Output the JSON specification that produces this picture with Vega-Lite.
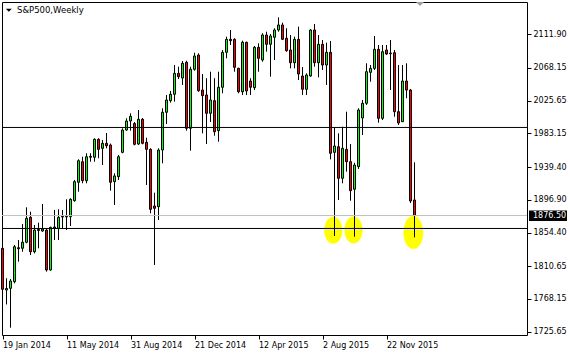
{
  "$schema": "https://vega.github.io/schema/vega-lite/v6.json",
  "width": 525,
  "height": 333,
  "autosize": {"type": "none"},
  "padding": {"left": 2, "top": 2, "right": 43, "bottom": 18},
  "background": "#ffffff",
  "config": {
    "view": {"stroke": "#000000", "strokeWidth": 1},
    "axis": {"grid": false, "domain": false, "labelFont": "DejaVu Sans", "labelFontSize": 8, "labelColor": "#000000", "tickColor": "#000000", "tickWidth": 1, "labelOverlap": false, "labelFlush": false, "tickCount": 30},
    "scale": {"continuousPadding": 0}
  },
  "datasets": {
    "candles": [
      {"d": "2014-01-19", "o": 1834.0, "h": 1843.8, "l": 1775.5, "c": 1780.7},
      {"d": "2014-01-26", "o": 1779.8, "h": 1795.0, "l": 1761.0, "c": 1781.8},
      {"d": "2014-02-02", "o": 1782.0, "h": 1794.1, "l": 1730.8, "c": 1791.5},
      {"d": "2014-02-09", "o": 1790.6, "h": 1838.2, "l": 1788.5, "c": 1836.0},
      {"d": "2014-02-16", "o": 1834.7, "h": 1844.7, "l": 1816.6, "c": 1833.4},
      {"d": "2014-02-23", "o": 1834.0, "h": 1865.5, "l": 1829.5, "c": 1841.8},
      {"d": "2014-03-02", "o": 1841.8, "h": 1887.2, "l": 1840.5, "c": 1872.9},
      {"d": "2014-03-09", "o": 1874.2, "h": 1881.5, "l": 1825.2, "c": 1829.5},
      {"d": "2014-03-16", "o": 1829.5, "h": 1864.2, "l": 1827.4, "c": 1857.7},
      {"d": "2014-03-23", "o": 1858.4, "h": 1867.2, "l": 1834.0, "c": 1857.1},
      {"d": "2014-03-30", "o": 1856.4, "h": 1891.5, "l": 1855.5, "c": 1859.0},
      {"d": "2014-04-06", "o": 1857.7, "h": 1859.9, "l": 1803.6, "c": 1805.8},
      {"d": "2014-04-13", "o": 1805.8, "h": 1862.0, "l": 1804.9, "c": 1861.2},
      {"d": "2014-04-20", "o": 1861.6, "h": 1883.7, "l": 1844.7, "c": 1860.3},
      {"d": "2014-04-27", "o": 1859.9, "h": 1884.6, "l": 1844.7, "c": 1874.2},
      {"d": "2014-05-04", "o": 1875.5, "h": 1883.7, "l": 1859.9, "c": 1874.6},
      {"d": "2014-05-11", "o": 1874.6, "h": 1897.6, "l": 1857.7, "c": 1875.5},
      {"d": "2014-05-18", "o": 1875.0, "h": 1898.9, "l": 1862.9, "c": 1897.6},
      {"d": "2014-05-25", "o": 1895.8, "h": 1922.7, "l": 1894.5, "c": 1920.5},
      {"d": "2014-06-01", "o": 1919.7, "h": 1949.5, "l": 1907.5, "c": 1947.7},
      {"d": "2014-06-08", "o": 1946.4, "h": 1952.9, "l": 1918.4, "c": 1921.8},
      {"d": "2014-06-15", "o": 1921.8, "h": 1957.4, "l": 1918.4, "c": 1952.9},
      {"d": "2014-06-22", "o": 1952.2, "h": 1957.4, "l": 1946.4, "c": 1953.4},
      {"d": "2014-06-29", "o": 1952.2, "h": 1976.8, "l": 1946.4, "c": 1975.5},
      {"d": "2014-07-06", "o": 1975.5, "h": 1976.8, "l": 1950.9, "c": 1962.5},
      {"d": "2014-07-13", "o": 1963.8, "h": 1974.6, "l": 1942.1, "c": 1970.3},
      {"d": "2014-07-20", "o": 1970.3, "h": 1983.7, "l": 1963.8, "c": 1967.2},
      {"d": "2014-07-27", "o": 1968.1, "h": 1970.0, "l": 1908.8, "c": 1919.7},
      {"d": "2014-08-03", "o": 1920.5, "h": 1931.4, "l": 1890.2, "c": 1927.9},
      {"d": "2014-08-10", "o": 1927.0, "h": 1955.1, "l": 1922.7, "c": 1952.9},
      {"d": "2014-08-17", "o": 1958.6, "h": 1989.8, "l": 1957.4, "c": 1987.6},
      {"d": "2014-08-24", "o": 1987.6, "h": 2002.8, "l": 1986.7, "c": 1999.3},
      {"d": "2014-08-31", "o": 1999.3, "h": 2009.3, "l": 1986.7, "c": 2005.4},
      {"d": "2014-09-07", "o": 1996.0, "h": 1998.0, "l": 1967.7, "c": 1969.0},
      {"d": "2014-09-14", "o": 1969.4, "h": 2013.6, "l": 1968.1, "c": 2001.5},
      {"d": "2014-09-21", "o": 2001.5, "h": 2003.2, "l": 1969.0, "c": 1970.3},
      {"d": "2014-09-28", "o": 1971.6, "h": 1977.6, "l": 1916.2, "c": 1962.5},
      {"d": "2014-10-05", "o": 1962.5, "h": 1963.8, "l": 1879.4, "c": 1884.6},
      {"d": "2014-10-12", "o": 1888.9, "h": 1906.2, "l": 1812.3, "c": 1885.9},
      {"d": "2014-10-19", "o": 1888.0, "h": 1963.8, "l": 1870.7, "c": 1961.6},
      {"d": "2014-10-26", "o": 1961.6, "h": 2015.8, "l": 1944.4, "c": 2010.6},
      {"d": "2014-11-02", "o": 2010.6, "h": 2033.1, "l": 1995.4, "c": 2026.6},
      {"d": "2014-11-09", "o": 2025.7, "h": 2038.3, "l": 2023.1, "c": 2034.0},
      {"d": "2014-11-16", "o": 2034.0, "h": 2072.0, "l": 2024.4, "c": 2061.2},
      {"d": "2014-11-23", "o": 2061.2, "h": 2069.8, "l": 2053.8, "c": 2056.8},
      {"d": "2014-11-30", "o": 2055.1, "h": 2077.2, "l": 2046.1, "c": 2074.2},
      {"d": "2014-12-07", "o": 2075.5, "h": 2077.6, "l": 1986.7, "c": 1989.8},
      {"d": "2014-12-14", "o": 1989.8, "h": 2069.8, "l": 1960.7, "c": 2066.4},
      {"d": "2014-12-21", "o": 2066.4, "h": 2088.0, "l": 2064.6, "c": 2083.7},
      {"d": "2014-12-28", "o": 2085.0, "h": 2087.2, "l": 2037.3, "c": 2038.6},
      {"d": "2015-01-04", "o": 2039.5, "h": 2060.3, "l": 1983.3, "c": 2032.2},
      {"d": "2015-01-11", "o": 2033.1, "h": 2054.8, "l": 1969.4, "c": 2009.3},
      {"d": "2015-01-18", "o": 2009.3, "h": 2063.3, "l": 1998.0, "c": 2026.6},
      {"d": "2015-01-25", "o": 2025.7, "h": 2054.8, "l": 1980.2, "c": 1985.4},
      {"d": "2015-02-01", "o": 1986.7, "h": 2063.3, "l": 1972.4, "c": 2043.1},
      {"d": "2015-02-08", "o": 2043.1, "h": 2091.5, "l": 2035.3, "c": 2088.5},
      {"d": "2015-02-15", "o": 2088.5, "h": 2108.8, "l": 2080.7, "c": 2105.4},
      {"d": "2015-02-22", "o": 2105.4, "h": 2117.5, "l": 2098.0, "c": 2103.6},
      {"d": "2015-03-01", "o": 2105.4, "h": 2106.7, "l": 2063.3, "c": 2069.0},
      {"d": "2015-03-08", "o": 2067.7, "h": 2068.5, "l": 2035.3, "c": 2037.3},
      {"d": "2015-03-15", "o": 2037.3, "h": 2103.6, "l": 2033.1, "c": 2101.5},
      {"d": "2015-03-22", "o": 2101.5, "h": 2102.3, "l": 2033.1, "c": 2038.3},
      {"d": "2015-03-29", "o": 2051.2, "h": 2054.8, "l": 2033.1, "c": 2043.1},
      {"d": "2015-04-05", "o": 2042.6, "h": 2096.7, "l": 2039.5, "c": 2095.0},
      {"d": "2015-04-12", "o": 2095.0, "h": 2100.2, "l": 2063.3, "c": 2080.7},
      {"d": "2015-04-19", "o": 2078.5, "h": 2113.2, "l": 2076.3, "c": 2111.0},
      {"d": "2015-04-26", "o": 2111.0, "h": 2115.3, "l": 2089.3, "c": 2098.9},
      {"d": "2015-05-03", "o": 2098.9, "h": 2112.3, "l": 2056.8, "c": 2109.7},
      {"d": "2015-05-10", "o": 2108.0, "h": 2119.7, "l": 2078.5, "c": 2117.5},
      {"d": "2015-05-17", "o": 2117.5, "h": 2134.0, "l": 2115.3, "c": 2124.0},
      {"d": "2015-05-24", "o": 2124.0, "h": 2127.0, "l": 2104.5, "c": 2105.4},
      {"d": "2015-05-31", "o": 2106.7, "h": 2119.7, "l": 2089.3, "c": 2090.6},
      {"d": "2015-06-07", "o": 2091.5, "h": 2111.0, "l": 2067.7, "c": 2075.0},
      {"d": "2015-06-14", "o": 2075.0, "h": 2108.8, "l": 2067.7, "c": 2105.4},
      {"d": "2015-06-21", "o": 2105.4, "h": 2121.8, "l": 2052.5, "c": 2060.3},
      {"d": "2015-06-28", "o": 2057.7, "h": 2069.4, "l": 2033.1, "c": 2040.5},
      {"d": "2015-07-05", "o": 2040.5, "h": 2061.2, "l": 2033.1, "c": 2059.0},
      {"d": "2015-07-12", "o": 2057.7, "h": 2118.4, "l": 2056.8, "c": 2117.5},
      {"d": "2015-07-19", "o": 2117.5, "h": 2125.3, "l": 2069.8, "c": 2075.0},
      {"d": "2015-07-26", "o": 2075.0, "h": 2111.0, "l": 2056.0, "c": 2098.9},
      {"d": "2015-08-02", "o": 2098.9, "h": 2104.5, "l": 2065.5, "c": 2072.0},
      {"d": "2015-08-09", "o": 2072.0, "h": 2101.0, "l": 2046.1, "c": 2088.5},
      {"d": "2015-08-16", "o": 2088.5, "h": 2103.2, "l": 1949.5, "c": 1957.4},
      {"d": "2015-08-23", "o": 1958.6, "h": 1990.2, "l": 1850.0, "c": 1966.8},
      {"d": "2015-08-30", "o": 1965.9, "h": 1983.3, "l": 1896.7, "c": 1924.9},
      {"d": "2015-09-06", "o": 1924.9, "h": 1991.9, "l": 1918.4, "c": 1963.8},
      {"d": "2015-09-13", "o": 1962.5, "h": 2011.4, "l": 1933.5, "c": 1946.4},
      {"d": "2015-09-20", "o": 1946.4, "h": 1969.4, "l": 1895.8, "c": 1908.8},
      {"d": "2015-09-27", "o": 1910.6, "h": 1945.1, "l": 1849.0, "c": 1942.1},
      {"d": "2015-10-04", "o": 1940.0, "h": 2015.8, "l": 1937.0, "c": 2013.6},
      {"d": "2015-10-11", "o": 2003.2, "h": 2026.6, "l": 1981.1, "c": 2022.3},
      {"d": "2015-10-18", "o": 2022.3, "h": 2074.2, "l": 2020.1, "c": 2063.3},
      {"d": "2015-10-25", "o": 2062.5, "h": 2072.0, "l": 2050.3, "c": 2067.7},
      {"d": "2015-11-01", "o": 2067.7, "h": 2109.7, "l": 2065.5, "c": 2092.4},
      {"d": "2015-11-08", "o": 2092.4, "h": 2098.0, "l": 1997.1, "c": 2002.8},
      {"d": "2015-11-15", "o": 2002.8, "h": 2098.0, "l": 2000.6, "c": 2089.3},
      {"d": "2015-11-22", "o": 2091.5, "h": 2098.0, "l": 2085.0, "c": 2086.3},
      {"d": "2015-11-29", "o": 2086.7, "h": 2104.5, "l": 2039.5, "c": 2087.6},
      {"d": "2015-12-06", "o": 2088.0, "h": 2091.5, "l": 2004.9, "c": 2011.4},
      {"d": "2015-12-13", "o": 2011.4, "h": 2072.0, "l": 1994.1, "c": 1996.7},
      {"d": "2015-12-20", "o": 1998.4, "h": 2072.0, "l": 1998.0, "c": 2051.2},
      {"d": "2015-12-27", "o": 2051.2, "h": 2074.2, "l": 2028.8, "c": 2039.5},
      {"d": "2016-01-03", "o": 2039.5, "h": 2040.9, "l": 1892.8, "c": 1895.4},
      {"d": "2016-01-10", "o": 1896.7, "h": 1945.6, "l": 1848.2, "c": 1876.5}
    ],
    "ellipses": [
      {"d": "2015-08-20T21:36:00Z", "p": 1857.3, "grp": "small"},
      {"d": "2015-09-25T06:00:00Z", "p": 1857.7, "grp": "small"},
      {"d": "2016-01-07T21:36:00Z", "p": 1854.5, "grp": "large"}
    ],
    "levels": [
      {"p": 1990.9, "kind": "level"},
      {"p": 1859.7, "kind": "level"},
      {"p": 1876.5, "kind": "price"}
    ],
    "crossings": [
      {"d": "2015-08-05T03:36:00Z", "d2": "2015-09-05T15:36:00Z", "p": 1859.7},
      {"d": "2015-09-09T03:36:00Z", "d2": "2015-10-11T08:24:00Z", "p": 1859.7},
      {"d": "2015-12-21T09:36:00Z", "d2": "2016-01-25T09:36:00Z", "p": 1859.7}
    ]
  },
  "layer": [
    {
      "data": {"name": "ellipses"},
      "transform": [{"filter": "datum.grp == 'small'"}],
      "mark": {"type": "point", "filled": true, "fill": "#ffff00", "opacity": 1, "strokeWidth": 0, "size": 729, "shape": "M0,-1A0.67,1,0,1,1,0,1A0.67,1,0,1,1,0,-1Z"},
      "encoding": {
        "x": {"field": "d", "type": "temporal", "scale": {"type": "utc", "domain": [1390014000000, 1469394000000], "padding": 0}, "axis": {"title": null}},
        "y": {"field": "p", "type": "quantitative", "scale": {"domain": [1721.35, 2153.85]}, "axis": {"title": null}}
      }
    },
    {
      "data": {"name": "ellipses"},
      "transform": [{"filter": "datum.grp == 'large'"}],
      "mark": {"type": "point", "filled": true, "fill": "#ffff00", "opacity": 1, "strokeWidth": 0, "size": 1089, "shape": "M0,-1A0.6,1,0,1,1,0,1A0.6,1,0,1,1,0,-1Z"},
      "encoding": {
        "x": {"field": "d", "type": "temporal", "scale": {"type": "utc", "domain": [1390014000000, 1469394000000], "padding": 0}, "axis": {"title": null}},
        "y": {"field": "p", "type": "quantitative", "scale": {"domain": [1721.35, 2153.85]}, "axis": {"title": null}}
      }
    },
    {
      "data": {"name": "candles"},
      "mark": {"type": "rule", "color": "#000000", "strokeWidth": 1},
      "encoding": {
        "x": {"field": "d", "type": "temporal", "scale": {"type": "utc", "domain": [1390014000000, 1469394000000], "padding": 0}, "axis": {"title": null}},
        "y": {"field": "l", "type": "quantitative", "scale": {"domain": [1721.35, 2153.85]}, "axis": {"title": null}},
        "y2": {"field": "h"}
      }
    },
    {
      "data": {"name": "candles"},
      "mark": {"type": "bar", "width": 2, "stroke": "#000000", "strokeWidth": 1},
      "encoding": {
        "x": {
          "field": "d", "type": "temporal",
          "scale": {"type": "utc", "domain": [1390014000000, 1469394000000], "padding": 0},
          "axis": {"orient": "bottom", "title": null, "values": [1390089600000, 1399766400000, 1409443200000, 1419120000000, 1428796800000, 1438473600000, 1448150400000], "format": "%-d %b %Y", "labelAlign": "left", "labelBaseline": "top", "labelPadding": 2, "tickSize": 4, "tickCount": 30, "labelFlush": false, "labelOverlap": false}
        },
        "y": {
          "field": "o", "type": "quantitative",
          "scale": {"domain": [1721.35, 2153.85]},
          "axis": {"orient": "right", "title": null, "values": [2111.9, 2068.15, 2025.65, 1983.15, 1939.4, 1896.9, 1854.4, 1810.65, 1768.15, 1725.65], "format": ".2f", "labelBaseline": "middle", "labelPadding": 2, "tickSize": 4, "tickCount": 30, "labelFlush": false, "labelOverlap": false}
        },
        "y2": {"field": "c"},
        "fill": {"condition": {"test": "datum.c >= datum.o", "value": "#00ff00"}, "value": "#ff0000"}
      }
    },
    {
      "data": {"name": "levels"},
      "mark": {"type": "rule", "strokeWidth": 1},
      "encoding": {
        "y": {"field": "p", "type": "quantitative", "scale": {"domain": [1721.35, 2153.85]}, "axis": {"title": null}},
        "color": {"condition": {"test": "datum.kind == 'price'", "value": "#c0c0c0"}, "value": "#000000"}
      }
    },
    {
      "data": {"name": "crossings"},
      "mark": {"type": "rule", "color": "#0000ff", "strokeWidth": 1},
      "encoding": {
        "x": {"field": "d", "type": "temporal", "scale": {"type": "utc", "domain": [1390014000000, 1469394000000], "padding": 0}, "axis": {"title": null}},
        "x2": {"field": "d2"},
        "y": {"field": "p", "type": "quantitative", "scale": {"domain": [1721.35, 2153.85]}, "axis": {"title": null}}
      }
    },
    {
      "data": {"values": [{}]},
      "mark": {"type": "rect", "color": "#000000"},
      "encoding": {
        "x": {"datum": 1469696400000, "type": "temporal", "scale": {"type": "utc", "domain": [1390014000000, 1469394000000], "padding": 0}, "axis": {"title": null}},
        "x2": {"datum": 1475442000000},
        "y": {"datum": 1883.05, "type": "quantitative", "scale": {"domain": [1721.35, 2153.85]}, "axis": {"title": null}},
        "y2": {"datum": 1869.41}
      }
    },
    {
      "data": {"values": [{"label": "1876.50"}]},
      "mark": {"type": "text", "align": "left", "baseline": "middle", "font": "DejaVu Sans", "fontSize": 8, "color": "#ffffff"},
      "encoding": {
        "x": {"datum": 1470301200000, "type": "temporal", "scale": {"type": "utc", "domain": [1390014000000, 1469394000000], "padding": 0}, "axis": {"title": null}},
        "y": {"datum": 1876.5, "type": "quantitative", "scale": {"domain": [1721.35, 2153.85]}, "axis": {"title": null}},
        "text": {"field": "label"}
      }
    },
    {
      "data": {"values": [{"label": "S&P500,Weekly"}]},
      "mark": {"type": "text", "align": "left", "baseline": "middle", "font": "DejaVu Sans", "fontSize": 8.5, "color": "#000000"},
      "encoding": {
        "x": {"datum": 1392282000000, "type": "temporal", "scale": {"type": "utc", "domain": [1390014000000, 1469394000000], "padding": 0}, "axis": {"title": null}},
        "y": {"datum": 2143.46, "type": "quantitative", "scale": {"domain": [1721.35, 2153.85]}, "axis": {"title": null}},
        "text": {"field": "label"}
      }
    },
    {
      "data": {"values": [{}]},
      "mark": {"type": "point", "filled": true, "color": "#000000", "opacity": 1, "size": 36, "shape": "M-1,-0.5L1,-0.5L0,0.5Z"},
      "encoding": {
        "x": {"datum": 1391042160000, "type": "temporal", "scale": {"type": "utc", "domain": [1390014000000, 1469394000000], "padding": 0}, "axis": {"title": null}},
        "y": {"datum": 2143.07, "type": "quantitative", "scale": {"domain": [1721.35, 2153.85]}, "axis": {"title": null}}
      }
    },
    {
      "data": {"values": [{}]},
      "mark": {"type": "point", "filled": true, "color": "#a0a0a0", "opacity": 1, "size": 64, "shape": "M-1,-0.5L1,-0.5L0,0.5Z"},
      "encoding": {
        "x": {"datum": 1453215600000, "type": "temporal", "scale": {"type": "utc", "domain": [1390014000000, 1469394000000], "padding": 0}, "axis": {"title": null}},
        "y": {"datum": 2151.25, "type": "quantitative", "scale": {"domain": [1721.35, 2153.85]}, "axis": {"title": null}}
      }
    }
  ]
}
